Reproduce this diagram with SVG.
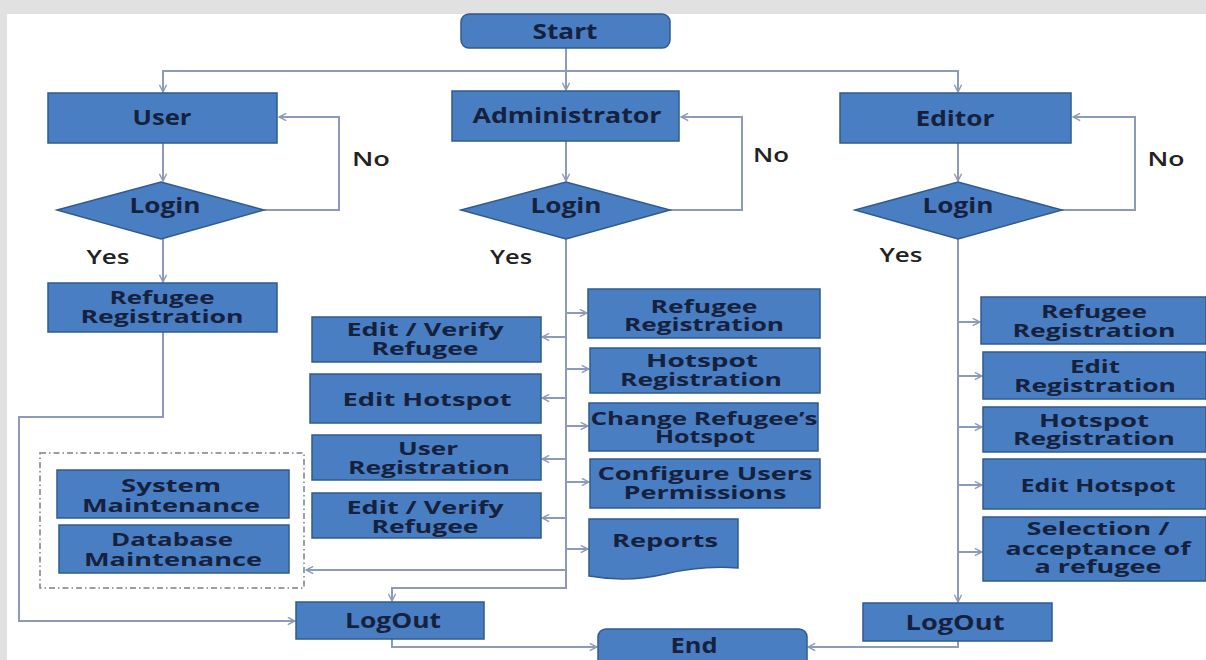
<svg xmlns="http://www.w3.org/2000/svg" width="1206" height="660" viewBox="0 0 1206 660">
<defs>
<style>
.box{fill:#4a7ec3;stroke:#2f5b8f;stroke-width:1.5}
.t{font-family:"Open Sans","DejaVu Sans",sans-serif;font-weight:700;fill:#16223d;text-anchor:middle;font-size:18px}
.tb{font-size:21px}
.lbl{font-family:"Open Sans","DejaVu Sans",sans-serif;font-weight:600;fill:#222;text-anchor:middle;font-size:20px}
.c{fill:none;stroke:#8d9bb8;stroke-width:2}
</style>
<marker id="a" viewBox="0 0 10 10" refX="9" refY="5" markerWidth="9" markerHeight="9" markerUnits="userSpaceOnUse" orient="auto">
<path d="M1,1 L9,5 L1,9" fill="none" stroke="#8d9bb8" stroke-width="1.6"/>
</marker>
</defs>
<rect x="0" y="0" width="1206" height="660" fill="#e1e1e1"/>
<rect x="7" y="14" width="1199" height="646" fill="#ffffff"/>

<g id="connectors">
<path class="c" d="M566,48 V90" marker-end="url(#a)"/>
<path class="c" d="M566,71 H163 V92" marker-end="url(#a)"/>
<path class="c" d="M566,71 H958 V92" marker-end="url(#a)"/>
<path class="c" d="M163,143 V181" marker-end="url(#a)"/>
<path class="c" d="M264,210 H339 V117 H279" marker-end="url(#a)"/>
<path class="c" d="M163,239 V282" marker-end="url(#a)"/>
<path class="c" d="M163,332 V417 H19 V621 H295" marker-end="url(#a)"/>
<path class="c" d="M566,141 V181" marker-end="url(#a)"/>
<path class="c" d="M670,210 H742 V117 H681" marker-end="url(#a)"/>
<path class="c" d="M566,239 V588 H392 V601" marker-end="url(#a)"/>
<path class="c" d="M566,313 H587" marker-end="url(#a)"/>
<path class="c" d="M566,369 H589" marker-end="url(#a)"/>
<path class="c" d="M566,426 H588" marker-end="url(#a)"/>
<path class="c" d="M566,482 H589" marker-end="url(#a)"/>
<path class="c" d="M566,549 H588" marker-end="url(#a)"/>
<path class="c" d="M566,337 H542" marker-end="url(#a)"/>
<path class="c" d="M566,398 H542" marker-end="url(#a)"/>
<path class="c" d="M566,459 H542" marker-end="url(#a)"/>
<path class="c" d="M566,518 H542" marker-end="url(#a)"/>
<path class="c" d="M566,570 H306" marker-end="url(#a)"/>
<path class="c" d="M392,639 V647 H597" marker-end="url(#a)"/>
<path class="c" d="M958,143 V181" marker-end="url(#a)"/>
<path class="c" d="M1062,210 H1135 V117 H1073" marker-end="url(#a)"/>
<path class="c" d="M958,239 V602" marker-end="url(#a)"/>
<path class="c" d="M958,322 H980" marker-end="url(#a)"/>
<path class="c" d="M958,376 H982" marker-end="url(#a)"/>
<path class="c" d="M958,427 H982" marker-end="url(#a)"/>
<path class="c" d="M958,485 H982" marker-end="url(#a)"/>
<path class="c" d="M958,552 H982" marker-end="url(#a)"/>
<path class="c" d="M958,641 V647 H808" marker-end="url(#a)"/>
</g>

<g id="labels">
<text class="lbl" x="371" y="166" textLength="38" lengthAdjust="spacingAndGlyphs">No</text>
<text class="lbl" x="771" y="162" textLength="36" lengthAdjust="spacingAndGlyphs">No</text>
<text class="lbl" x="1166" y="166" textLength="37" lengthAdjust="spacingAndGlyphs">No</text>
<text class="lbl" x="108" y="264" textLength="43" lengthAdjust="spacingAndGlyphs">Yes</text>
<text class="lbl" x="511" y="264" textLength="42" lengthAdjust="spacingAndGlyphs">Yes</text>
<text class="lbl" x="901" y="262" textLength="43" lengthAdjust="spacingAndGlyphs">Yes</text>
</g>

<g id="start"><rect class="box" x="461" y="14" width="209" height="34" rx="8"/><text class="t tb" x="565" y="39" textLength="65" lengthAdjust="spacingAndGlyphs">Start</text></g>
<g id="user"><rect class="box" x="48" y="93" width="229" height="50"/><text class="t tb" x="162" y="125" textLength="59" lengthAdjust="spacingAndGlyphs">User</text></g>
<g id="admin"><rect class="box" x="452" y="91" width="227" height="50"/><text class="t tb" x="567" y="123" textLength="189" lengthAdjust="spacingAndGlyphs">Administrator</text></g>
<g id="editor"><rect class="box" x="840" y="93" width="231" height="50"/><text class="t tb" x="955" y="126" textLength="79" lengthAdjust="spacingAndGlyphs">Editor</text></g>

<g id="login-user"><polygon class="box" points="57,210 161,182 264,210 161,239"/><text class="t tb" x="165" y="213" textLength="71" lengthAdjust="spacingAndGlyphs">Login</text></g>
<g id="login-admin"><polygon class="box" points="461,210 566,182 670,210 566,239"/><text class="t tb" x="566" y="213" textLength="71" lengthAdjust="spacingAndGlyphs">Login</text></g>
<g id="login-editor"><polygon class="box" points="855,210 958,182 1062,210 958,239"/><text class="t tb" x="958" y="213" textLength="71" lengthAdjust="spacingAndGlyphs">Login</text></g>

<g id="user-refreg"><rect class="box" x="48" y="283" width="229" height="49"/><text class="t" x="162" y="304" textLength="105" lengthAdjust="spacingAndGlyphs">Refugee</text><text class="t" x="162" y="323" textLength="163" lengthAdjust="spacingAndGlyphs">Registration</text></g>

<g id="admin-refreg"><rect class="box" x="588" y="289" width="232" height="49"/><text class="t" x="704" y="313" textLength="107" lengthAdjust="spacingAndGlyphs">Refugee</text><text class="t" x="704" y="331" textLength="160" lengthAdjust="spacingAndGlyphs">Registration</text></g>
<g id="admin-hotreg"><rect class="box" x="590" y="348" width="230" height="45"/><text class="t" x="702" y="367" textLength="112" lengthAdjust="spacingAndGlyphs">Hotspot</text><text class="t" x="701" y="386" textLength="162" lengthAdjust="spacingAndGlyphs">Registration</text></g>
<g id="admin-change"><rect class="box" x="589" y="403" width="229" height="48"/><text class="t" x="704" y="425" textLength="227" lengthAdjust="spacingAndGlyphs">Change Refugee’s</text><text class="t" x="705" y="443" textLength="100" lengthAdjust="spacingAndGlyphs">Hotspot</text></g>
<g id="admin-config"><rect class="box" x="590" y="459" width="230" height="49"/><text class="t" x="705" y="480" textLength="215" lengthAdjust="spacingAndGlyphs">Configure Users</text><text class="t" x="705" y="499" textLength="163" lengthAdjust="spacingAndGlyphs">Permissions</text></g>
<g id="admin-reports"><path class="box" d="M589,519 H738 V568 C712,566 690,568 665,574 C640,580 612,580 589,576 Z"/><text class="t" x="665" y="547" textLength="106" lengthAdjust="spacingAndGlyphs">Reports</text></g>

<g id="admin-editverify1"><rect class="box" x="312" y="317" width="229" height="45"/><text class="t" x="425" y="336" textLength="157" lengthAdjust="spacingAndGlyphs">Edit / Verify</text><text class="t" x="425" y="355" textLength="107" lengthAdjust="spacingAndGlyphs">Refugee</text></g>
<g id="admin-edithotspot"><rect class="box" x="310" y="374" width="231" height="49"/><text class="t" x="427" y="406" textLength="169" lengthAdjust="spacingAndGlyphs">Edit Hotspot</text></g>
<g id="admin-userreg"><rect class="box" x="312" y="435" width="229" height="45"/><text class="t" x="428" y="455" textLength="60" lengthAdjust="spacingAndGlyphs">User</text><text class="t" x="429" y="474" textLength="162" lengthAdjust="spacingAndGlyphs">Registration</text></g>
<g id="admin-editverify2"><rect class="box" x="312" y="493" width="229" height="45"/><text class="t" x="425" y="514" textLength="157" lengthAdjust="spacingAndGlyphs">Edit / Verify</text><text class="t" x="425" y="533" textLength="107" lengthAdjust="spacingAndGlyphs">Refugee</text></g>

<g id="maintenance-group"><rect x="40" y="453" width="264" height="135" fill="none" stroke="#7a7f8a" stroke-width="1.5" stroke-dasharray="6 3 1.5 3"/></g>
<g id="sys-maint"><rect class="box" x="57" y="470" width="232" height="48"/><text class="t" x="171" y="492" textLength="100" lengthAdjust="spacingAndGlyphs">System</text><text class="t" x="171" y="512" textLength="178" lengthAdjust="spacingAndGlyphs">Maintenance</text></g>
<g id="db-maint"><rect class="box" x="59" y="525" width="230" height="48"/><text class="t" x="172" y="546" textLength="122" lengthAdjust="spacingAndGlyphs">Database</text><text class="t" x="173" y="566" textLength="178" lengthAdjust="spacingAndGlyphs">Maintenance</text></g>

<g id="logout-admin"><rect class="box" x="296" y="602" width="188" height="37"/><text class="t tb" x="393" y="628" textLength="96" lengthAdjust="spacingAndGlyphs">LogOut</text></g>
<g id="end"><rect class="box" x="598" y="629" width="209" height="40" rx="8"/><text class="t tb" x="694" y="653" textLength="47" lengthAdjust="spacingAndGlyphs">End</text></g>
<g id="logout-editor"><rect class="box" x="863" y="603" width="189" height="38"/><text class="t tb" x="955" y="630" textLength="99" lengthAdjust="spacingAndGlyphs">LogOut</text></g>

<g id="editor-refreg"><rect class="box" x="981" y="297" width="225" height="47"/><text class="t" x="1094" y="318" textLength="106" lengthAdjust="spacingAndGlyphs">Refugee</text><text class="t" x="1094" y="337" textLength="163" lengthAdjust="spacingAndGlyphs">Registration</text></g>
<g id="editor-editreg"><rect class="box" x="983" y="352" width="223" height="47"/><text class="t" x="1095" y="373" textLength="50" lengthAdjust="spacingAndGlyphs">Edit</text><text class="t" x="1095" y="392" textLength="162" lengthAdjust="spacingAndGlyphs">Registration</text></g>
<g id="editor-hotreg"><rect class="box" x="983" y="407" width="223" height="45"/><text class="t" x="1094" y="427" textLength="110" lengthAdjust="spacingAndGlyphs">Hotspot</text><text class="t" x="1094" y="445" textLength="162" lengthAdjust="spacingAndGlyphs">Registration</text></g>
<g id="editor-edithotspot"><rect class="box" x="983" y="459" width="223" height="50"/><text class="t" x="1098" y="492" textLength="155" lengthAdjust="spacingAndGlyphs">Edit Hotspot</text></g>
<g id="editor-selection"><rect class="box" x="983" y="517" width="223" height="64"/><text class="t" x="1098" y="535" textLength="143" lengthAdjust="spacingAndGlyphs">Selection /</text><text class="t" x="1098" y="555" textLength="185" lengthAdjust="spacingAndGlyphs">acceptance of</text><text class="t" x="1098" y="573" textLength="127" lengthAdjust="spacingAndGlyphs">a refugee</text></g>
</svg>
